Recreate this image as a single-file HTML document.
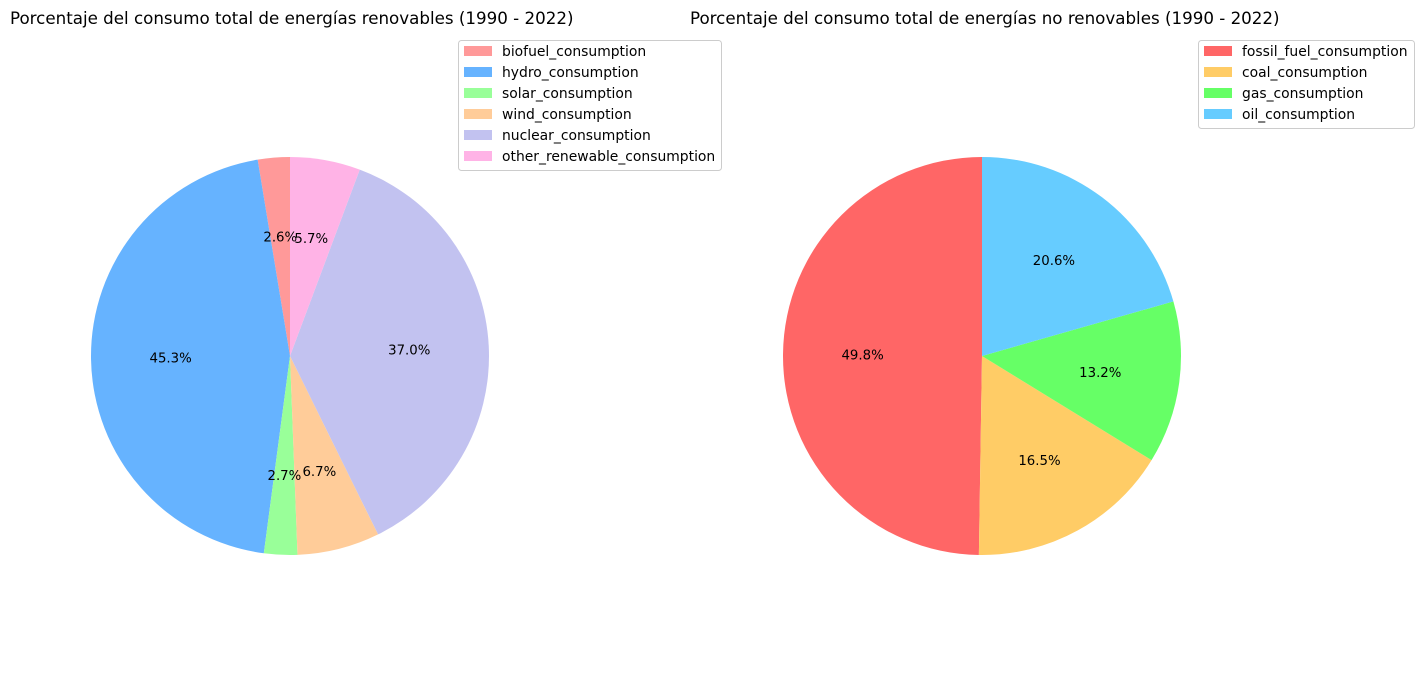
<!DOCTYPE html>
<html><head><meta charset="utf-8"><style>
body{margin:0;background:#fff;}
svg{display:block;font-family:"DejaVu Sans","Liberation Sans",sans-serif;}
</style></head><body>
<svg id="chart" width="1423" height="690" viewBox="0 0 1423 690" xmlns="http://www.w3.org/2000/svg">
<text x="10" y="24" font-size="16.7" fill="#000">Porcentaje del consumo total de energías renovables (1990 - 2022)</text>
<text x="690" y="24" font-size="16.7" fill="#000">Porcentaje del consumo total de energías no renovables (1990 - 2022)</text>
</svg>
<script>
const renLabels = ["biofuel_consumption","hydro_consumption","solar_consumption","wind_consumption","nuclear_consumption","other_renewable_consumption"];
const renValues = [2.6,45.3,2.7,6.7,37.0,5.7];
const renColors = ["#ff9999","#66b3ff","#99ff99","#ffcc99","#c2c2f0","#ffb3e6"];
const nonLabels = ["fossil_fuel_consumption","coal_consumption","gas_consumption","oil_consumption"];
const nonValues = [49.8,16.5,13.2,20.6];
const nonColors = ["#ff6666","#ffcc66","#66ff66","#66ccff"];

const svg = document.getElementById('chart');
const NS = "http://www.w3.org/2000/svg";
function mk(tag, attrs){const e=document.createElementNS(NS,tag);for(const k in attrs)e.setAttribute(k,attrs[k]);svg.appendChild(e);return e;}

function pie(cx, cy, r, values, colors, labels, prefix){
  const total = values.reduce((a,b)=>a+b,0);
  let a = 90;
  const mids = [];
  values.forEach((v,i)=>{
    const sweep = v/total*360;
    const a0 = a*Math.PI/180, a1 = (a+sweep)*Math.PI/180;
    const x0 = cx + r*Math.cos(a0), y0 = cy - r*Math.sin(a0);
    const x1 = cx + r*Math.cos(a1), y1 = cy - r*Math.sin(a1);
    const large = sweep>180?1:0;
    const p = mk('path',{d:`M${cx},${cy} L${x0},${y0} A${r},${r} 0 ${large} 0 ${x1},${y1} Z`,fill:colors[i]});
    
    
    mids.push((a+sweep/2)*Math.PI/180);
    a += sweep;
  });
  values.forEach((v,i)=>{
    const am = mids[i];
    const t = mk('text',{x:cx+0.6*r*Math.cos(am), y:cy-0.6*r*Math.sin(am)+4.5,'text-anchor':'middle','font-size':'13.3',fill:'#000'});
    t.textContent = v.toFixed(1)+'%';
    
    
  });
}
function legend(x, y, w, labels, colors, prefix){
  const h = 4 + labels.length*21;
  const box = mk('rect',{x:x+0.5,y:y+0.5,width:w,height:h,rx:3,fill:'#fff','fill-opacity':0.8,stroke:'#ccc'});
  
  
  labels.forEach((l,i)=>{
    const yy = y + 11 + i*21;
    const r = mk('rect',{x:x+6,y:yy-5,width:28,height:10,fill:colors[i]});
    
    
    const t = mk('text',{x:x+44,y:yy+5,'font-size':'13.9',fill:'#000'});
    t.textContent = l;
    
    
  });
}
pie(290, 356, 199, renValues, renColors, renLabels, 'renewable');
pie(982, 356, 199, nonValues, nonColors, nonLabels, 'nonrenewable');
legend(458, 40, 263, renLabels, renColors, 'renewable');
legend(1198, 40, 216, nonLabels, nonColors, 'nonrenewable');
</script>
</body></html>
